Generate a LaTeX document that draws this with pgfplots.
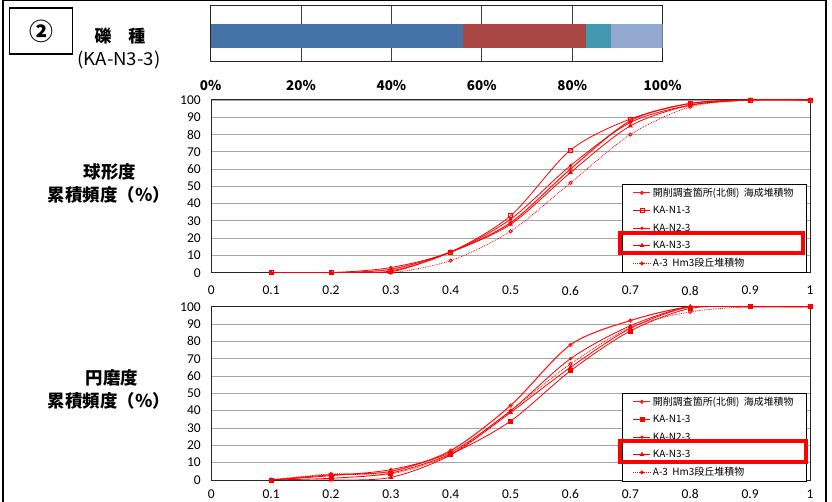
\documentclass[border=0pt]{standalone}
\usepackage{pgfplots}
\pgfplotsset{compat=1.18}
\usepackage{pgfplotstable}
\usepackage{graphicx}
\usepackage{fontspec}
\setmainfont{Carlito}
\newfontfamily\jp{Noto Sans CJK JP}

\definecolor{c1}{HTML}{4572A7}
\definecolor{c2}{HTML}{AA4643}
\definecolor{c3}{HTML}{4198AF}
\definecolor{c4}{HTML}{93A9CF}

\pgfplotstableread{
x   kai  n1  n2  n3  a3
0.1 0    0   0   0   0
0.2 0    0   0   0   0
0.3 2    1   3   0.5 0
0.4 12   12  12  12  7
0.5 29   33  31  28  24
0.6 60   71  62  58  52
0.7 88   89  87  85  80
0.8 98   98  97  97  96
0.9 100  100 100 100 100
1.0 100  100 100 100 100
}\sph

\pgfplotstableread{
x   kai  n1  n2  n3   a3
0.1 0    0   0   0    0
0.2 3    1   2.5 0    3.5
0.3 5    4   6   1.5  3.5
0.4 17   15  16  14.5 15
0.5 43   34  40  39   40
0.6 78   63  70  65   67
0.7 92   86  89  87.5 88
0.8 100  99  100 100  97
0.9 100  100 100 100  100
1.0 100  100 100 100  100
}\rnd

\pgfplotsset{
  lc/.style={
    scale only axis, width=598.8bp,
    xmin=0, xmax=1, ymin=0, ymax=100,
    xtick={0,0.1,0.2,0.3,0.4,0.5,0.6,0.7,0.8,0.9,1},
    xticklabels={0,0.1,0.2,0.3,0.4,0.5,0.6,0.7,0.8,0.9,1},
    ytick={0,10,20,30,40,50,60,70,80,90,100},
    ymajorgrids, grid style={black!35, line width=0.9bp},
    axis line style={black!85, line width=1bp},
    tick style={draw=none},
    /pgf/number format/assume math mode=true,
    tick label style={font=\fontsize{13.5}{14}\selectfont},
    yticklabel style={xshift=-7bp},
    legend cell align=left,
    legend style={draw=black, line width=0.7bp, fill=white,
      font=\jp\fontsize{10}{11}\selectfont,
      row sep=4.6bp, inner xsep=11bp, inner ysep=1.5bp},
    legend image code/.code={
      \draw[mark repeat=2,mark phase=2,#1] plot coordinates {(0bp,0bp) (8.5bp,0bp) (17bp,0bp)};
    },
  },
  s1/.style={red!90, line width=1.1bp, smooth, tension=0.5, mark=*, mark size=1.5bp, mark options={solid}},
  s2/.style={red, line width=0.8bp, smooth, tension=0.5, mark=square, mark size=2bp, mark options={solid, fill=red!25}},
  s2f/.style={red, line width=0.8bp, smooth, tension=0.5, mark=square*, mark size=2bp, mark options={solid}},
  s3/.style={red, line width=0.8bp, smooth, tension=0.5, mark=*, mark size=1.2bp, mark options={solid}},
  s4/.style={red, line width=0.8bp, smooth, tension=0.5, mark=triangle*, mark size=2bp, mark options={solid}},
  s5/.style={red, line width=0.8bp, densely dotted, smooth, tension=0.5, mark=o, mark size=1.6bp, mark options={solid, fill=white}},
}

\begin{document}
\begin{tikzpicture}
\useasboundingbox (0,0) rectangle (832bp,502bp);
\fill[white] (0,0) rectangle (832bp,502bp);

% outer frame
\draw[line width=1.4bp] (3bp,-5bp) -- (3bp,501.5bp) -- (826bp,501.5bp) -- (826bp,-5bp);

% box with circled number
\draw[line width=1.3bp] (9.5bp,448bp) rectangle (72.7bp,494bp);
\node at (41bp,471bp) {\jp\bfseries\fontsize{24}{24}\selectfont ②};
\node at (120bp,465.5bp) {\jp\bfseries\fontsize{17}{17}\selectfont 礫　種};
\node at (119bp,442bp) {\scalebox{1.1}[1.05]{\jp\fontsize{17}{17}\selectfont (KA-N3-3)}};

% stacked bar
\begin{axis}[at={(210.6bp,440.3bp)}, anchor=south west, scale only axis,
  width=452bp, height=55.7bp,
  xbar stacked, bar width=24bp,
  xmin=0, xmax=100, ymin=0, ymax=1,
  ytick=\empty,
  xtick={0,20,40,60,80,100},
  xticklabels={0\%,20\%,40\%,60\%,80\%,100\%},
  xmajorgrids, grid style={black!75, line width=0.7bp},
  axis line style={black!85, line width=1bp},
  tick style={draw=none},
  xticklabel style={font=\jp\bfseries\fontsize{13.5}{14}\selectfont, yshift=-15bp},
]
\addplot[fill=c1, draw=none] coordinates {(55.8,0.461)};
\addplot[fill=c2, draw=none] coordinates {(27.2,0.461)};
\addplot[fill=c3, draw=none] coordinates {(5.6,0.461)};
\addplot[fill=c4, draw=none] coordinates {(11.4,0.461)};
\end{axis}

% upper chart
\begin{axis}[lc, at={(211.2bp,229.3bp)}, anchor=south west, height=172.7bp,
  xticklabel style={yshift=-10bp},
  legend style={at={(0.995,0.5136)}, anchor=north east}]
\addplot[s1] table[x=x,y=kai] {\sph};
\addplot[s2] table[x=x,y=n1] {\sph};
\addplot[s3] table[x=x,y=n2] {\sph};
\addplot[s4] table[x=x,y=n3] {\sph};
\addplot[s5] table[x=x,y=a3] {\sph};
\legend{開削調査箇所(北側)\ \ 海成堆積物, KA-N1-3, KA-N2-3, KA-N3-3, A-3\ \ Hm3段丘堆積物}
\end{axis}

% lower chart
\begin{axis}[lc, at={(211.2bp,22bp)}, anchor=south west, height=173.3bp,
  xticklabel style={yshift=-6bp},
  legend style={at={(0.995,0.502)}, anchor=north east}]
\addplot[s1] table[x=x,y=kai] {\rnd};
\addplot[s2f] table[x=x,y=n1] {\rnd};
\addplot[s3] table[x=x,y=n2] {\rnd};
\addplot[s4] table[x=x,y=n3] {\rnd};
\addplot[s5] table[x=x,y=a3] {\rnd};
\legend{開削調査箇所(北側)\ \ 海成堆積物, KA-N1-3, KA-N2-3, KA-N3-3, A-3\ \ Hm3段丘堆積物}
\end{axis}

% y labels
\node at (110bp,330bp) {\jp\bfseries\fontsize{17.5}{18}\selectfont 球形度};
\node at (109bp,307bp) {\jp\bfseries\fontsize{17.5}{18}\selectfont 累積頻度（％）};
\node at (112bp,124bp) {\jp\bfseries\fontsize{17.5}{18}\selectfont 円磨度};
\node at (109bp,101bp) {\jp\bfseries\fontsize{17.5}{18}\selectfont 累積頻度（％）};

% red highlight boxes
\draw[red, line width=3.5bp] (620bp,249bp) rectangle (803bp,269bp);
\draw[red, line width=3.5bp] (620bp,40bp) rectangle (806bp,61bp);
\end{tikzpicture}
\end{document}
